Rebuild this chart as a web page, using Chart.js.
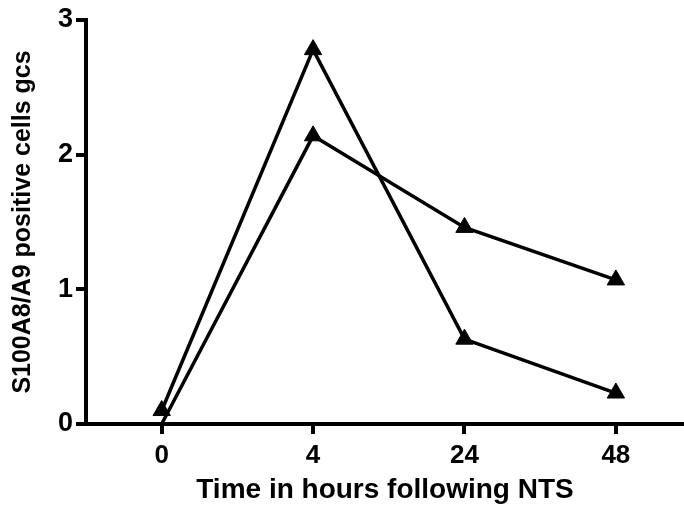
<!DOCTYPE html>
<html>
<head>
<meta charset="utf-8">
<script src="https://cdn.jsdelivr.net/npm/chart.js@4"></script>
<style>
  html, body { margin: 0; padding: 0; background: #fff; }
  #wrap { width: 684px; height: 511px; position: relative; }
</style>
</head>
<body>
<div id="wrap"><canvas id="lineChart"></canvas></div>
<script>
// hours after NTS, shown as evenly spaced categories
const timeLabels = ['0', '4', '24', '48'];
const seriesHigh = [0.1, 2.78, 0.63, 0.23];   // peaks at ~2.8
const seriesLow = [0, 2.14, 1.46, 1.07];      // peaks at ~2.15
const yTickValues = [0, 1, 2, 3];

const FONT = "'Liberation Sans', Arial, sans-serif";

function toPoints(values) {
    return values.map((v, i) => ({ x: i, y: v }));
}

const ctx = document.getElementById('lineChart').getContext('2d');

const lineStyle = {
    borderColor: '#000',
    backgroundColor: '#000',
    borderWidth: 3.5,
    pointStyle: 'triangle',
    pointBorderWidth: 1,
    pointBorderColor: '#000',
    pointBackgroundColor: '#000',
    tension: 0,
    clip: false
};

const chart = new Chart(ctx, {
    type: 'line',
    data: {
        datasets: [
            Object.assign({ label: 'A', data: toPoints(seriesHigh), pointRadius: 10 }, lineStyle),
            // first point sits on the axis and has no visible marker
            Object.assign({ label: 'B', data: toPoints(seriesLow), pointRadius: [0, 10, 10, 10] }, lineStyle)
        ]
    },
    options: {
        responsive: true,
        maintainAspectRatio: false,
        animation: false,
        layout: { autoPadding: false, padding: { top: 20, right: 0, bottom: 0, left: 0 } },
        plugins: {
            legend: { display: false },
            tooltip: { enabled: false }
        },
        scales: {
            x: {
                type: 'linear',
                min: -0.5,
                max: 3.45,
                afterBuildTicks: function(scale) {
                    scale.ticks = timeLabels.map((_, i) => ({ value: i }));
                },
                afterFit: function(scale) {
                    scale.height = 87;
                    scale.paddingLeft = 0;
                    scale.paddingRight = 0;
                },
                ticks: {
                    color: '#000',
                    padding: 6,
                    maxRotation: 0,
                    font: { family: FONT, size: 26, weight: 'bold' },
                    callback: function(value) {
                        return timeLabels[value];
                    }
                },
                grid: {
                    drawOnChartArea: false,
                    drawTicks: true,
                    tickLength: 10,
                    lineWidth: 4,
                    color: '#000'
                },
                border: { display: true, width: 4, color: '#000' },
                title: {
                    display: true,
                    text: 'Time in hours following NTS',
                    color: '#000',
                    font: { family: FONT, size: 28, weight: 'bold' },
                    padding: { top: 6, bottom: 4 }
                }
            },
            y: {
                min: 0,
                max: 3,
                afterBuildTicks: function(scale) {
                    scale.ticks = yTickValues.map(v => ({ value: v }));
                },
                afterFit: function(scale) {
                    scale.width = 86;
                },
                ticks: {
                    color: '#000',
                    padding: 3,
                    font: { family: FONT, size: 27, weight: 'bold' }
                },
                grid: {
                    drawOnChartArea: false,
                    drawTicks: true,
                    tickLength: 10,
                    lineWidth: 4,
                    color: '#000'
                },
                border: { display: true, width: 4, color: '#000' },
                title: {
                    display: true,
                    text: 'S100A8/A9 positive cells gcs',
                    color: '#000',
                    font: { family: FONT, size: 25, weight: 'bold' },
                    padding: { top: 8, bottom: 4 }
                }
            }
        }
    }
});
</script>
</body>
</html>
